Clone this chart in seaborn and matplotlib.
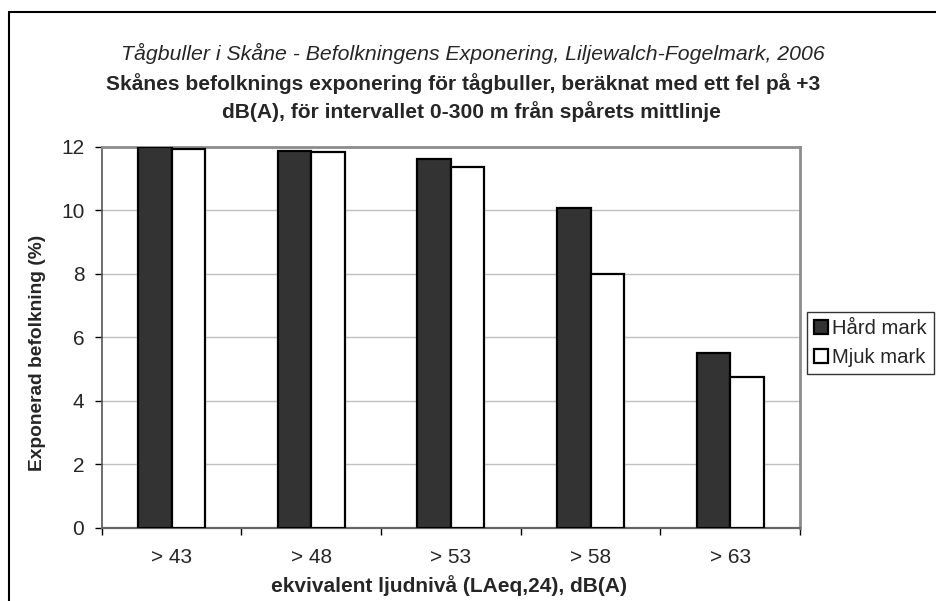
import matplotlib
matplotlib.use("Agg")
import matplotlib.pyplot as plt
import seaborn as sns
import pandas as pd
from matplotlib.lines import Line2D
from matplotlib.patches import Patch

categories = ["> 43", "> 48", "> 53", "> 58", "> 63"]
hard_mark = [12.0, 11.87, 11.63, 10.09, 5.51]
mjuk_mark = [11.95, 11.83, 11.36, 7.98, 4.75]
series_names = ["Hård mark", "Mjuk mark"]
y_ticks = [0, 2, 4, 6, 8, 10, 12]

df = pd.DataFrame({
    "cat": categories * 2,
    "val": hard_mark + mjuk_mark,
    "serie": [series_names[0]] * 5 + [series_names[1]] * 5,
})

sns.set_theme(style="white")
plt.rcParams["font.family"] = ["Liberation Sans", "DejaVu Sans"]

W, H = 937, 601
fig = plt.figure(figsize=(W / 100, H / 100), dpi=100)
ax = fig.add_axes([101.7 / W, 1 - 527.5 / H, (800 - 101.7) / W, (527.5 - 147) / H])

palette = {series_names[0]: "#333333", series_names[1]: "#ffffff"}
sns.barplot(data=df, x="cat", y="val", hue="serie", palette=palette,
            width=0.48, gap=0, edgecolor="black", linewidth=1.6,
            saturation=1, ax=ax, legend=False, zorder=3)

ax.set_ylim(0, 12)
ax.set_xlim(-0.5, 4.5)
ax.set_yticks(y_ticks)
ax.set_yticklabels([str(t) for t in y_ticks], fontsize=15)
ax.yaxis.grid(True, color="#c0c0c0", linewidth=1)
ax.set_axisbelow(True)
ax.xaxis.grid(False)

ax.set_xticks([-0.5, 0.5, 1.5, 2.5, 3.5, 4.5], minor=False)
ax.set_xticklabels([])
ax.set_xticks(range(5), minor=True)
ax.set_xticklabels(categories, minor=True, fontsize=15)
ax.tick_params(axis="x", which="major", direction="out", length=5, width=1, color="black", bottom=True)
ax.tick_params(axis="x", which="minor", length=0, pad=15)
ax.tick_params(axis="y", direction="out", length=5, width=1, color="black", left=True, pad=7.5)

for side in ["top", "right"]:
    ax.spines[side].set_visible(True)
    ax.spines[side].set_color("#8c8c8c")
    ax.spines[side].set_linewidth(2)
ax.spines["left"].set_color("#555555")
ax.spines["left"].set_linewidth(1.2)
ax.spines["bottom"].set_color("#666666")
ax.spines["bottom"].set_linewidth(1.6)

ax.set_xlabel("")
ax.set_ylabel("")
fig.text(38 / W, 1 - 353 / H, "Exponerad befolkning (%)", rotation=90,
         ha="center", va="center", fontsize=13.8, fontweight="bold")
fig.text(449 / W, 1 - 586 / H, "ekvivalent ljudnivå (LAeq,24), dB(A)",
         ha="center", va="center", fontsize=15, fontweight="bold")

fig.text(473 / W, 1 - 53 / H, "Tågbuller i Skåne - Befolkningens Exponering, Liljewalch-Fogelmark, 2006",
         ha="center", va="center", fontsize=15.3, style="italic")
fig.text(463 / W, 1 - 84 / H, "Skånes befolknings exponering för tågbuller, beräknat med ett fel på +3",
         ha="center", va="center", fontsize=15.1, fontweight="bold")
fig.text(471 / W, 1 - 112 / H, "dB(A), för intervallet 0-300 m från spårets mittlinje",
         ha="center", va="center", fontsize=15.1, fontweight="bold")

handles = [Patch(facecolor=palette[s], edgecolor="black", linewidth=1.6, label=s) for s in series_names]
leg = fig.legend(handles=handles, loc="upper left", bbox_to_anchor=(807 / W, 1 - 312 / H),
                 fontsize=14.6, frameon=True, fancybox=False, borderpad=0.35,
                 handlelength=0.7, handleheight=0.7, handletextpad=0.2,
                 labelspacing=0.5, borderaxespad=0)
leg.get_frame().set_edgecolor("black")
leg.get_frame().set_linewidth(1)

fig.add_artist(Line2D([8.7 / W, 1], [1 - 12.3 / H, 1 - 12.3 / H], transform=fig.transFigure, color="black", linewidth=1.5))
fig.add_artist(Line2D([8.7 / W, 8.7 / W], [0, 1 - 12.3 / H], transform=fig.transFigure, color="black", linewidth=1.5))

fig.savefig("out.png", dpi=100)
